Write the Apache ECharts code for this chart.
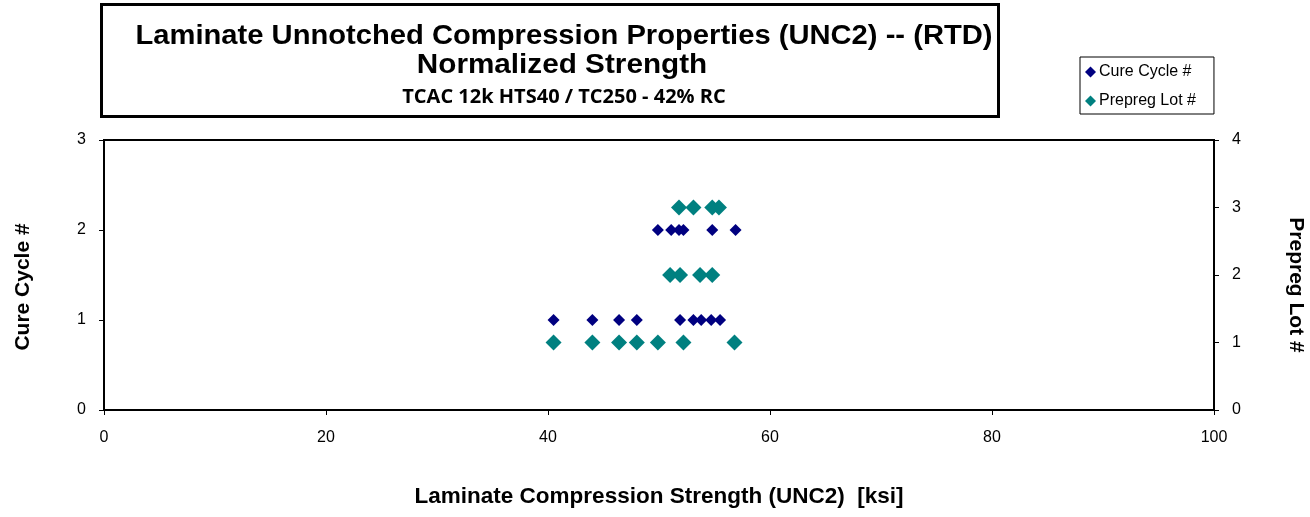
<!DOCTYPE html>
<html><head><meta charset="utf-8">
<script src="https://cdn.jsdelivr.net/npm/echarts@6/dist/echarts.min.js"></script>
<style>html,body{margin:0;padding:0;background:#fff}#c{width:1310px;height:517px}</style>
</head><body><div id="c"></div>
<script>
// Data
const cureCycleStrength = [40.5, 44.0, 46.4, 48.0, 51.9, 53.1, 53.8, 54.7, 55.5, 49.9, 51.1, 51.8, 52.2, 54.8, 56.9];
const cureCycleNum      = [1, 1, 1, 1, 1, 1, 1, 1, 1, 2, 2, 2, 2, 2, 2];
const prepregStrength   = [40.5, 44.0, 46.4, 48.0, 49.9, 52.2, 56.8, 51.0, 51.9, 53.7, 54.8, 51.8, 53.1, 54.8, 55.4];
const prepregLot        = [1, 1, 1, 1, 1, 1, 1, 2, 2, 2, 2, 3, 3, 3, 3];

const titleText = 'Laminate Unnotched Compression Properties (UNC2) -- (RTD)';
const title2Text = 'Normalized Strength';
const subtitleText = 'TCAC 12k HTS40 / TC250 - 42% RC';
const xName = 'Laminate Compression Strength (UNC2)  [ksi]';
const yLeftName = 'Cure Cycle #';
const yRightName = 'Prepreg Lot #';

const pair = (xs, ys) => xs.map((x, i) => [x, ys[i]]);
const F = '"Liberation Sans", Arial, sans-serif';
const txt = (text, x, y, font, extra) => Object.assign({
  type: 'text', x: x, y: y, z: 10,
  style: { text: text, font: font, fill: '#000', align: 'center', verticalAlign: 'middle',
           textAlign: 'center', textVerticalAlign: 'middle' }
}, extra || {});

const chart = echarts.init(document.getElementById('c'));
chart.setOption({
  animation: false,
  grid: { left: 104, right: 96, top: 140, bottom: 107, show: true, borderColor: '#000', borderWidth: 2 },
  graphic: [
    { type: 'rect', shape: { x: 101.5, y: 4.5, width: 897, height: 112 }, style: { fill: '#fff', stroke: '#000', lineWidth: 3 } },
    txt(titleText, 564, 37, 'bold 27px ' + F, { scaleX: 1.08 }),
    txt(title2Text, 562, 66, 'bold 27px ' + F, { scaleX: 1.1 }),
    txt(subtitleText, 564, 97, 'bold 20px "Open Sans", sans-serif'),
    txt(xName, 659, 497, 'bold 22.5px ' + F),
    txt(yLeftName, 23, 287, 'bold 21px ' + F, { rotation: Math.PI / 2 }),
    txt(yRightName, 1296, 285, 'bold 21px ' + F, { rotation: -Math.PI / 2 })
  ],
  legend: {
    orient: 'vertical', left: 1080, top: 57, itemGap: 13, itemWidth: 11, itemHeight: 11,
    borderColor: '#000', borderWidth: 1, padding: [7, 18, 5, 5], backgroundColor: '#fff',
    textStyle: { fontFamily: F, fontSize: 16, color: '#000', padding: [0, 0, 0, -2] },
    data: [{ name: 'Cure Cycle #', icon: 'diamond' }, { name: 'Prepreg Lot #', icon: 'diamond' }]
  },
  xAxis: {
    type: 'value', min: 0, max: 100, interval: 20,
    axisLine: { lineStyle: { color: '#000', width: 2 } },
    axisTick: { show: true, inside: false, length: 5, lineStyle: { color: '#000' } },
    axisLabel: { fontFamily: F, fontSize: 16, color: '#000', margin: 20 },
    splitLine: { show: false }
  },
  yAxis: [
    { type: 'value', min: 0, max: 3, interval: 1, position: 'left',
      axisLine: { show: true, lineStyle: { color: '#000', width: 2 } },
      axisTick: { show: true, length: 5, lineStyle: { color: '#000' } },
      axisLabel: { fontFamily: F, fontSize: 16, color: '#000', margin: 18 },
      splitLine: { show: false } },
    { type: 'value', min: 0, max: 4, interval: 1, position: 'right',
      axisLine: { show: true, lineStyle: { color: '#000', width: 2 } },
      axisTick: { show: true, length: 5, lineStyle: { color: '#000' } },
      axisLabel: { fontFamily: F, fontSize: 16, color: '#000', margin: 18 },
      splitLine: { show: false } }
  ],
  series: [
    { name: 'Cure Cycle #', type: 'scatter', yAxisIndex: 0, symbol: 'diamond', symbolSize: 12,
      itemStyle: { color: '#000080', opacity: 1 }, data: pair(cureCycleStrength, cureCycleNum) },
    { name: 'Prepreg Lot #', type: 'scatter', yAxisIndex: 1, symbol: 'diamond', symbolSize: 16,
      itemStyle: { color: '#008080', opacity: 1 }, data: pair(prepregStrength, prepregLot) }
  ]
});
</script></body></html>
